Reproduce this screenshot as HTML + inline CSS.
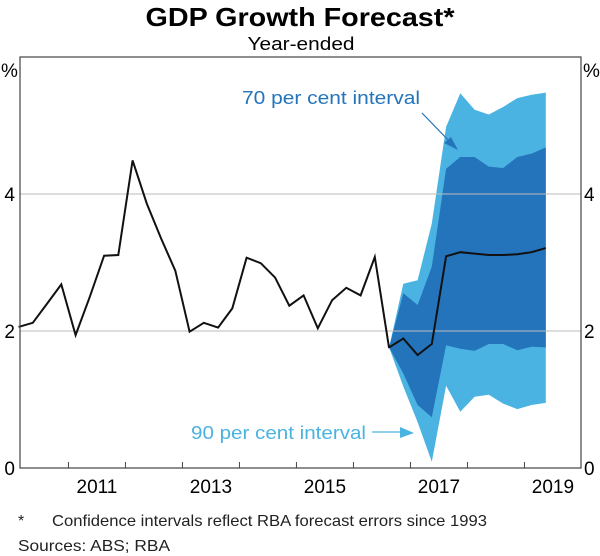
<!DOCTYPE html>
<html><head><meta charset="utf-8"><style>
body{margin:0;background:#fff;}
svg{display:block;font-family:"Liberation Sans",Arial,sans-serif;}
</style></head><body>
<svg width="600" height="556" viewBox="0 0 600 556" id="chart">
<text x="300" y="26" text-anchor="middle" font-size="26" font-weight="bold" textLength="309" lengthAdjust="spacingAndGlyphs">GDP Growth Forecast*</text>
<text x="301" y="50" text-anchor="middle" font-size="18" textLength="107" lengthAdjust="spacingAndGlyphs">Year-ended</text>
<g id="bands"></g>
<g id="grid"></g>
<g id="line"></g>
<rect x="20" y="57" width="561" height="411" fill="none" stroke="#444" stroke-width="1.2"/>
<g id="axes"></g>
<text x="1" y="77" font-size="19">%</text>
<text x="583" y="77" font-size="19">%</text>
<text x="242" y="104" font-size="18" fill="#2474BC" textLength="178" lengthAdjust="spacingAndGlyphs">70 per cent interval</text>
<line x1="422" y1="113" x2="452" y2="144" stroke="#2474BC" stroke-width="1.2"/>
<polygon points="458,150 444,143 451,137" fill="#2474BC"/>
<text x="191" y="439" font-size="18" fill="#4BB3E2" textLength="175" lengthAdjust="spacingAndGlyphs">90 per cent interval</text>
<line x1="372" y1="432" x2="404" y2="432" stroke="#4BB3E2" stroke-width="1.2"/>
<polygon points="414,433 400,427 400,438" fill="#4BB3E2"/>
<text x="18" y="526" font-size="16" fill="#222">*</text>
<text x="52" y="526" font-size="16" fill="#222" textLength="435" lengthAdjust="spacingAndGlyphs">Confidence intervals reflect RBA forecast errors since 1993</text>
<text x="18" y="551" font-size="16" fill="#222" textLength="152" lengthAdjust="spacingAndGlyphs">Sources:  ABS; RBA</text>
</svg>
<script>
const histValues=[2.06,2.12,2.40,2.68,1.94,2.50,3.10,3.11,4.49,3.86,3.35,2.88,1.99,2.12,2.05,2.33,3.07,2.99,2.78,2.37,2.52,2.04,2.45,2.63,2.52,3.08,1.75];
const fcValues=[1.76,1.89,1.65,1.81,3.09,3.15,3.13,3.11,3.11,3.12,3.15,3.21];
const up90=[1.76,2.69,2.74,3.57,4.98,5.47,5.23,5.16,5.27,5.40,5.45,5.48];
const up70=[1.76,2.55,2.38,2.94,4.37,4.54,4.54,4.40,4.38,4.54,4.59,4.68];
const lo70=[1.76,1.38,0.92,0.74,1.79,1.74,1.71,1.81,1.81,1.72,1.77,1.76];
const lo90=[1.76,1.19,0.67,0.09,1.20,0.82,1.04,1.07,0.94,0.86,0.92,0.95];
const yTicks=[0,2,4];
const xYears=[2011,2013,2015,2017,2019];
const histStart=2010.125;
const fcStart=histStart+26*0.25;
const NS="http://www.w3.org/2000/svg";
function xs(t){return 20+(t-2010.15)*57;}
function ys(v){return 468-v*68.5;}
function el(tag,attrs,parent){const e=document.createElementNS(NS,tag);for(const k in attrs)e.setAttribute(k,attrs[k]);parent.appendChild(e);return e;}
const bands=document.getElementById('bands'),grid=document.getElementById('grid'),line=document.getElementById('line'),axes=document.getElementById('axes');
function band(upper,lower,color,name){
  let pts=upper.map((v,i)=>xs(fcStart+i*0.25).toFixed(1)+','+ys(v).toFixed(1));
  for(let i=lower.length-1;i>=0;i--)pts.push(xs(fcStart+i*0.25).toFixed(1)+','+ys(lower[i]).toFixed(1));
  const p=el('polygon',{points:pts.join(' '),fill:color},bands);
  
  
}
band(up90,lo90,'#4BB3E2','band-90-per-cent');
band(up70,lo70,'#2474BC','band-70-per-cent');
yTicks.forEach(v=>{
  if(v>0){const g=el('line',{x1:20,x2:581,y1:ys(v),y2:ys(v),stroke:'#bbb','stroke-width':1},grid);
  
  }
  const l=el('text',{x:15,y:ys(v)+7,'text-anchor':'end','font-size':19},axes);l.textContent=v;
  
  
  const r=el('text',{x:584,y:ys(v)+7,'font-size':19},axes);r.textContent=v;
  
  
});
for(let y=2011;y<=2019;y++){
  const t=el('line',{x1:xs(y),x2:xs(y),y1:468,y2:462,stroke:'#444','stroke-width':1},axes);
  
  
}
xYears.forEach(y=>{
  const t=el('text',{x:xs(y+0.5),y:493,'text-anchor':'middle','font-size':19},axes);t.textContent=y;
  
  
});
const pts=histValues.map((v,i)=>xs(histStart+i*0.25).toFixed(1)+','+ys(v).toFixed(1)).concat(fcValues.map((v,i)=>xs(fcStart+i*0.25).toFixed(1)+','+ys(v).toFixed(1)));
const pl=el('polyline',{points:pts.join(' '),fill:'none',stroke:'#111','stroke-width':2,'stroke-linejoin':'miter'},line);


</script>
</body></html>
